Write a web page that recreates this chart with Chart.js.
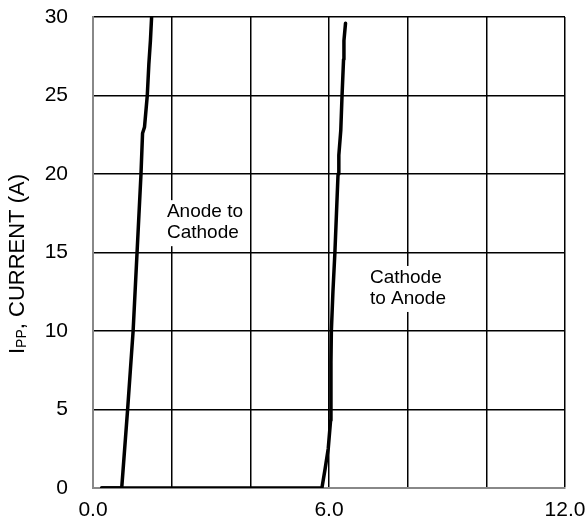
<!DOCTYPE html>
<html><head><meta charset="utf-8">
<script src="https://cdn.jsdelivr.net/npm/chart.js@4/dist/chart.umd.min.js"></script>
<style>html,body{margin:0;padding:0;background:#fff}#wrap{width:586px;height:525px}</style>
</head><body><div id="wrap"><canvas id="c" width="586" height="525"></canvas></div>
<script>
// Anode to Cathode curve (V, A)
const anodeX = [0.22, 0.50, 0.73, 0.76, 0.82, 0.88, 0.95, 1.02, 1.07, 1.12, 1.17, 1.22, 1.26, 1.31, 1.38, 1.42, 1.46, 1.49];
const anodeY = [0, 0, 0, 1, 3, 5, 7.5, 10, 12.5, 15, 17.5, 20, 22.6, 23, 25, 27, 28.5, 30];
// Cathode to Anode curve (V, A)
const cathodeX = [0.22, 3.0, 5.82, 5.90, 5.98, 6.04, 6.05, 6.05, 6.06, 6.10, 6.15, 6.19, 6.23, 6.25, 6.30, 6.33, 6.37, 6.38, 6.42];
const cathodeY = [0, 0, 0, 1.2, 2.5, 4.3, 6, 8, 10, 12.5, 15, 17.5, 20, 21.2, 22.8, 24.9, 27.3, 28.5, 29.6];
const xLabeledTicks = [0, 6, 12];
const yTicks = [0, 5, 10, 15, 20, 25, 30];
const annotations = [
  {lines: ['Anode to', 'Cathode'], x: 1.88, y: 17.25},
  {lines: ['Cathode', 'to Anode'], x: 7.04, y: 13.06}
];

const FONT = '"Liberation Sans", Arial, Helvetica, sans-serif';
const pts = (xs, ys) => xs.map((x, i) => ({x, y: ys[i]}));
const gridColor = ctx => (ctx.tick && ctx.tick.value === 0) ? 'rgba(0,0,0,0)' : '#000';

const overlay = {
  id: 'overlay',
  afterDatasetsDraw(chart) {
    const ctx = chart.ctx, xs = chart.scales.x, ys = chart.scales.y;
    ctx.save();
    ctx.font = '19px ' + FONT;
    ctx.textBaseline = 'alphabetic';
    annotations.forEach(a => {
      const px = xs.getPixelForValue(a.x), py = ys.getPixelForValue(a.y);
      const w = Math.max(...a.lines.map(l => ctx.measureText(l).width));
      ctx.fillStyle = '#fff';
      ctx.fillRect(px - 4, py - 17, w + 8, 21 * a.lines.length + 4);
      ctx.fillStyle = '#000';
      a.lines.forEach((l, i) => ctx.fillText(l, px, py + i * 21));
    });
    ctx.restore();
    // y-axis title with subscript
    ctx.save();
    ctx.translate(24, 354);
    ctx.rotate(-Math.PI / 2);
    ctx.fillStyle = '#000';
    ctx.textBaseline = 'alphabetic';
    ctx.font = '22px ' + FONT;
    ctx.fillText('I', 0, 0);
    let off = ctx.measureText('I').width;
    ctx.font = '14px ' + FONT;
    ctx.fillText('PP', off, 2);
    off += ctx.measureText('PP').width;
    ctx.font = '22px ' + FONT;
    ctx.fillText(', CURRENT (A)', off, 0);
    ctx.restore();
  }
};

const lineStyle = {showLine: true, borderColor: '#000', borderWidth: 3.5, pointRadius: 0, tension: 0,
  borderJoinStyle: 'round', borderCapStyle: 'round'};

new Chart(document.getElementById('c'), {
  type: 'scatter',
  data: {
    datasets: [
      Object.assign({data: pts(anodeX, anodeY)}, lineStyle),
      Object.assign({data: pts(cathodeX, cathodeY)}, lineStyle)
    ]
  },
  options: {
    responsive: false, animation: false,
    layout: {padding: {top: 17, right: 21, bottom: 0, left: 0}},
    plugins: {legend: {display: false}, tooltip: {enabled: false}},
    scales: {
      x: {
        type: 'linear', min: 0, max: 12,
        ticks: {stepSize: 2, autoSkip: false, maxRotation: 0, color: '#000', font: {family: FONT, size: 21}, padding: 10,
          callback: v => xLabeledTicks.includes(v) ? v.toFixed(1) : ''},
        grid: {color: gridColor, lineWidth: 1.5, drawTicks: false},
        border: {color: '#888', width: 2},
        afterFit: s => { s.height = 37; s.paddingLeft = 0; s.paddingRight = 0; }
      },
      y: {
        type: 'linear', min: 0, max: 30,
        afterBuildTicks: s => { s.ticks = yTicks.map(v => ({value: v})); },
        ticks: {color: '#000', font: {family: FONT, size: 21}, padding: 25},
        grid: {color: gridColor, lineWidth: 1.5, drawTicks: false},
        border: {color: '#888', width: 2},
        afterFit: s => { s.width = 93; s.paddingTop = 0; s.paddingBottom = 0; }
      }
    }
  },
  plugins: [overlay]
});
</script></body></html>
